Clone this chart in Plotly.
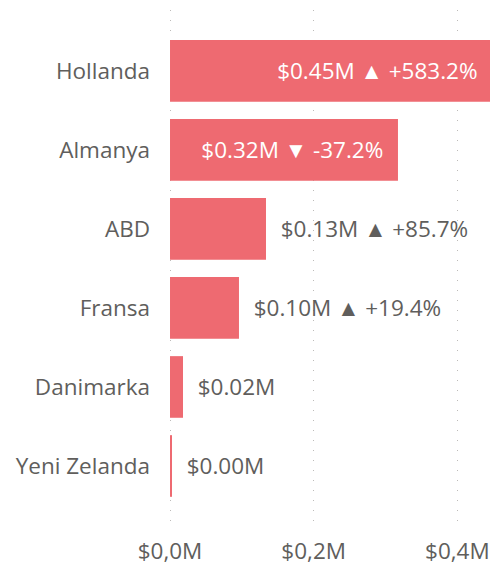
import plotly.graph_objects as go

# Sales by country (millions USD) and change vs previous period
countries = ["Hollanda", "Almanya", "ABD", "Fransa", "Danimarka", "Yeni Zelanda"]
sales_m = [0.4485, 0.3173, 0.1336, 0.0960, 0.0181, 0.0028]
change_txt = [" ▲ +583.2%", " ▼ -37.2%", " ▲ +85.7%", " ▲ +19.4%", "", ""]
label_inside = [True, True, False, False, False, False]

tick_vals = [0, 0.2, 0.4]
tick_text = ["$0,0M", "$0,2M", "$0,4M"]

BAR = "#EE6A71"
GREY = "#605E5C"
FONT = "Open Sans, Segoe UI, sans-serif"
SIZE = 22.5
PAD = "\u00a0\u00a0"

templates = []
positions = []
colors = []
for inside in label_inside:
    if inside:
        templates.append("%{x:$.2f}M%{customdata}" + PAD)
        positions.append("inside")
        colors.append("white")
    else:
        templates.append(PAD + "%{x:$.2f}M%{customdata}")
        positions.append("outside")
        colors.append(GREY)

fig = go.Figure(
    go.Bar(
        y=countries,
        x=sales_m,
        orientation="h",
        marker=dict(color=BAR, line=dict(width=0)),
        customdata=change_txt,
        texttemplate=templates,
        textposition=positions,
        insidetextanchor="end",
        constraintext="none",
        textfont=dict(family=FONT, size=SIZE, color=colors),
        cliponaxis=True,
        hoverinfo="skip",
    )
)

fig.update_layout(
    width=490,
    height=566,
    margin=dict(l=169, r=0, t=10, b=36),
    paper_bgcolor="white",
    plot_bgcolor="white",
    bargap=0.22,
    showlegend=False,
    font=dict(family=FONT, color=GREY, size=SIZE),
    xaxis=dict(
        # start a hair below zero so the gridline at 0 is kept
        range=[-0.0014, 0.4454],
        tickvals=tick_vals,
        ticktext=tick_text,
        showgrid=True,
        gridcolor="#BDBBB9",
        gridwidth=1,
        griddash="1px,9px",
        zeroline=False,
        showline=False,
        ticks="",
        ticklabelstandoff=5,
        ticklabeloverflow="allow",
        tickfont=dict(size=SIZE, color=GREY),
        fixedrange=True,
    ),
    yaxis=dict(
        categoryorder="array",
        categoryarray=countries,
        range=[5.81, -0.77],
        showgrid=False,
        zeroline=False,
        showline=False,
        ticks="",
        ticklabelstandoff=18,
        tickfont=dict(size=SIZE, color=GREY),
        fixedrange=True,
    ),
)

fig.write_html("out.html")
